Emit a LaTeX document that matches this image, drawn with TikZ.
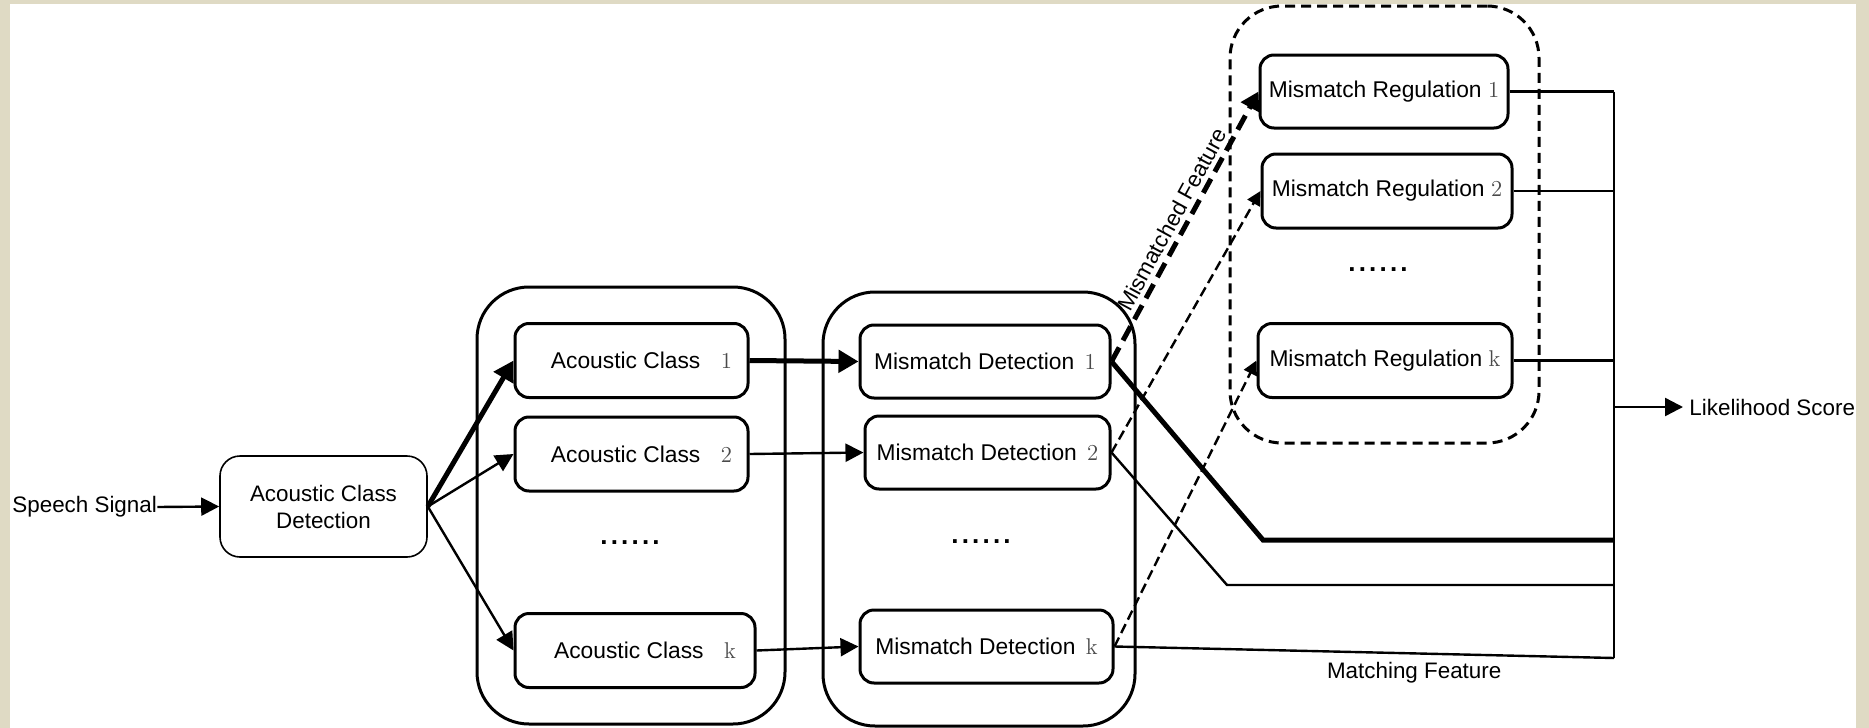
\documentclass[tikz,border=0pt]{standalone}
\usepackage{fontspec}
\setsansfont{Liberation Sans}
\usetikzlibrary{arrows.meta}
\definecolor{bgbeige}{HTML}{DFDAC4}
\definecolor{numgray}{HTML}{4A4A4A}
\newcommand\sixdots{.\hspace{1.6pt}.\hspace{1.6pt}.\hspace{1.6pt}.\hspace{1.6pt}.\hspace{1.6pt}.}
\newcommand\nm[1]{{\rmfamily\color{numgray}#1}}
\tikzset{
  lbl/.style={font=\sffamily\fontsize{11.2}{13}\selectfont, inner sep=1pt},
  blockbox/.style={draw, line width=1.5pt, rounded corners=7pt, inner sep=0pt,
    font=\sffamily\fontsize{11.4}{13}\selectfont, minimum height=37pt},
  detbox/.style={draw, line width=0.8pt, rounded corners=10pt, inner sep=0pt,
    font=\sffamily\fontsize{11.2}{13.5}\selectfont, align=center,
    minimum width=103.5pt, minimum height=50.5pt},
  groupbox/.style={draw, line width=1.5pt, rounded corners=26pt, inner sep=0pt},
  dgroupbox/.style={groupbox, dash pattern=on 5pt off 3pt},
  conn/.style={line width=1.2pt, -{Triangle[length=9pt,width=9pt]}},
  thickconn/.style={line width=2.5pt, -{Triangle[length=10pt,width=11pt]}},
  dconn/.style={line width=1.2pt, dash pattern=on 5pt off 2.5pt, -{Triangle[length=7pt,width=7pt]}},
  tdconn/.style={line width=2.5pt, dash pattern=on 8pt off 4pt, -{Triangle[length=9pt,width=10pt]}},
  wire/.style={line width=1.2pt},
  thickwire/.style={line width=2.5pt},
  bus/.style={line width=1.4pt},
  dots/.style={font=\sffamily\bfseries\fontsize{13}{15}\selectfont, inner sep=0pt}
}
\begin{document}
\begin{tikzpicture}[x=0.5pt,y=-0.5pt]
\useasboundingbox (0,0) rectangle (1869,728);
\fill[bgbeige] (0,0) rectangle (1869,728);
\fill[white] (10,4) rectangle (1856,728);

% group containers
\node[groupbox, minimum width=154pt, minimum height=218.5pt] (g1) at (631,505.5) {};
\node[groupbox, minimum width=156pt, minimum height=217pt] (g2) at (979,509) {};
\node[dgroupbox, minimum width=154.5pt, minimum height=218.5pt] (g3) at (1384.5,224.5) {};

% input
\node[lbl, anchor=west, inner sep=0pt] (speech) at (12,507) {Speech Signal};
\node[detbox] (acd) at (323.5,506.5) {Acoustic Class\\Detection};

% acoustic classes
\node[blockbox, minimum width=116.5pt] (ac1) at (631.5,360.5) {\hspace{10pt}Acoustic Class\hspace{0.9em}\nm{1}};
\node[blockbox, minimum width=116.5pt] (ac2) at (631.5,454) {\hspace{10pt}Acoustic Class\hspace{0.9em}\nm{2}};
\node[dots] (acdots) at (630,543) {\sixdots};
\node[blockbox, minimum width=120pt] (ack) at (635,650.5) {\hspace{10pt}Acoustic Class\hspace{0.9em}\nm{k}};

% mismatch detection
\node[blockbox, minimum width=125pt, minimum height=36.5pt] (md1) at (985,361.5) {Mismatch Detection\hspace{0.45em}\nm{1}};
\node[blockbox, minimum width=122.5pt, minimum height=36.5pt] (md2) at (987.5,452.5) {Mismatch Detection\hspace{0.45em}\nm{2}};
\node[dots] (mddots) at (981,542) {\sixdots};
\node[blockbox, minimum width=126.5pt, minimum height=36.5pt] (mdk) at (986.5,646.5) {Mismatch Detection\hspace{0.45em}\nm{k}};

% mismatch regulation
\node[blockbox, minimum width=124pt, minimum height=36.5pt] (mr1) at (1384,91.5) {Mismatch Regulation \nm{1}};
\node[blockbox, minimum width=125pt] (mr2) at (1387,191) {Mismatch Regulation \nm{2}};
\node[dots] (mrdots) at (1378,270) {\sixdots};
\node[blockbox, minimum width=127pt] (mrk) at (1385,360.5) {Mismatch Regulation \nm{k}};

% output
\node[lbl, anchor=west, inner sep=0pt] (like) at (1689,407) {Likelihood Score};

% helper coordinates
\coordinate (busx) at (1614,0);
\coordinate (bend1) at (1263,540);
\coordinate (bend2) at (1227,585);
\coordinate (mdkend) at (1614,658);

% connectors
\draw[conn] (speech.east) -- (acd.west);
\draw[thickconn] (acd.east) -- (ac1.west);
\draw[conn] (acd.east) -- (ac2.west);
\draw[conn] (acd.east) -- (ack.west);

\draw[thickconn] (ac1.east) -- (md1.west);
\draw[conn] (ac2.east) -- (md2.west);
\draw[conn] (ack.east) -- (mdk.west);

\draw[tdconn] (md1.east) -- node[lbl, sloped, above=1pt] (mmf) {Mismatched Feature} (mr1.west);
\draw[dconn] (md2.east) -- (mr2.west);
\draw[dconn] (mdk.east) -- (mrk.west);

\draw[thickwire] (md1.east) -- (bend1) -- (bend1 -| busx);
\draw[wire] (md2.east) -- (bend2) -- (bend2 -| busx);
\draw[wire] (mdk.east) -- node[lbl, pos=0.6, below=3pt] (mfeat) {Matching Feature} (mdkend);

\draw[wire] (mr1.east) -- (mr1.east -| busx);
\draw[wire] (mr2.east) -- (mr2.east -| busx);
\draw[wire] (mrk.east) -- (mrk.east -| busx);
\draw[bus] (mr1.east -| busx) -- (mdkend);

\draw[conn, shorten >=3pt] (like.west -| busx) -- (like.west);
\end{tikzpicture}
\end{document}
